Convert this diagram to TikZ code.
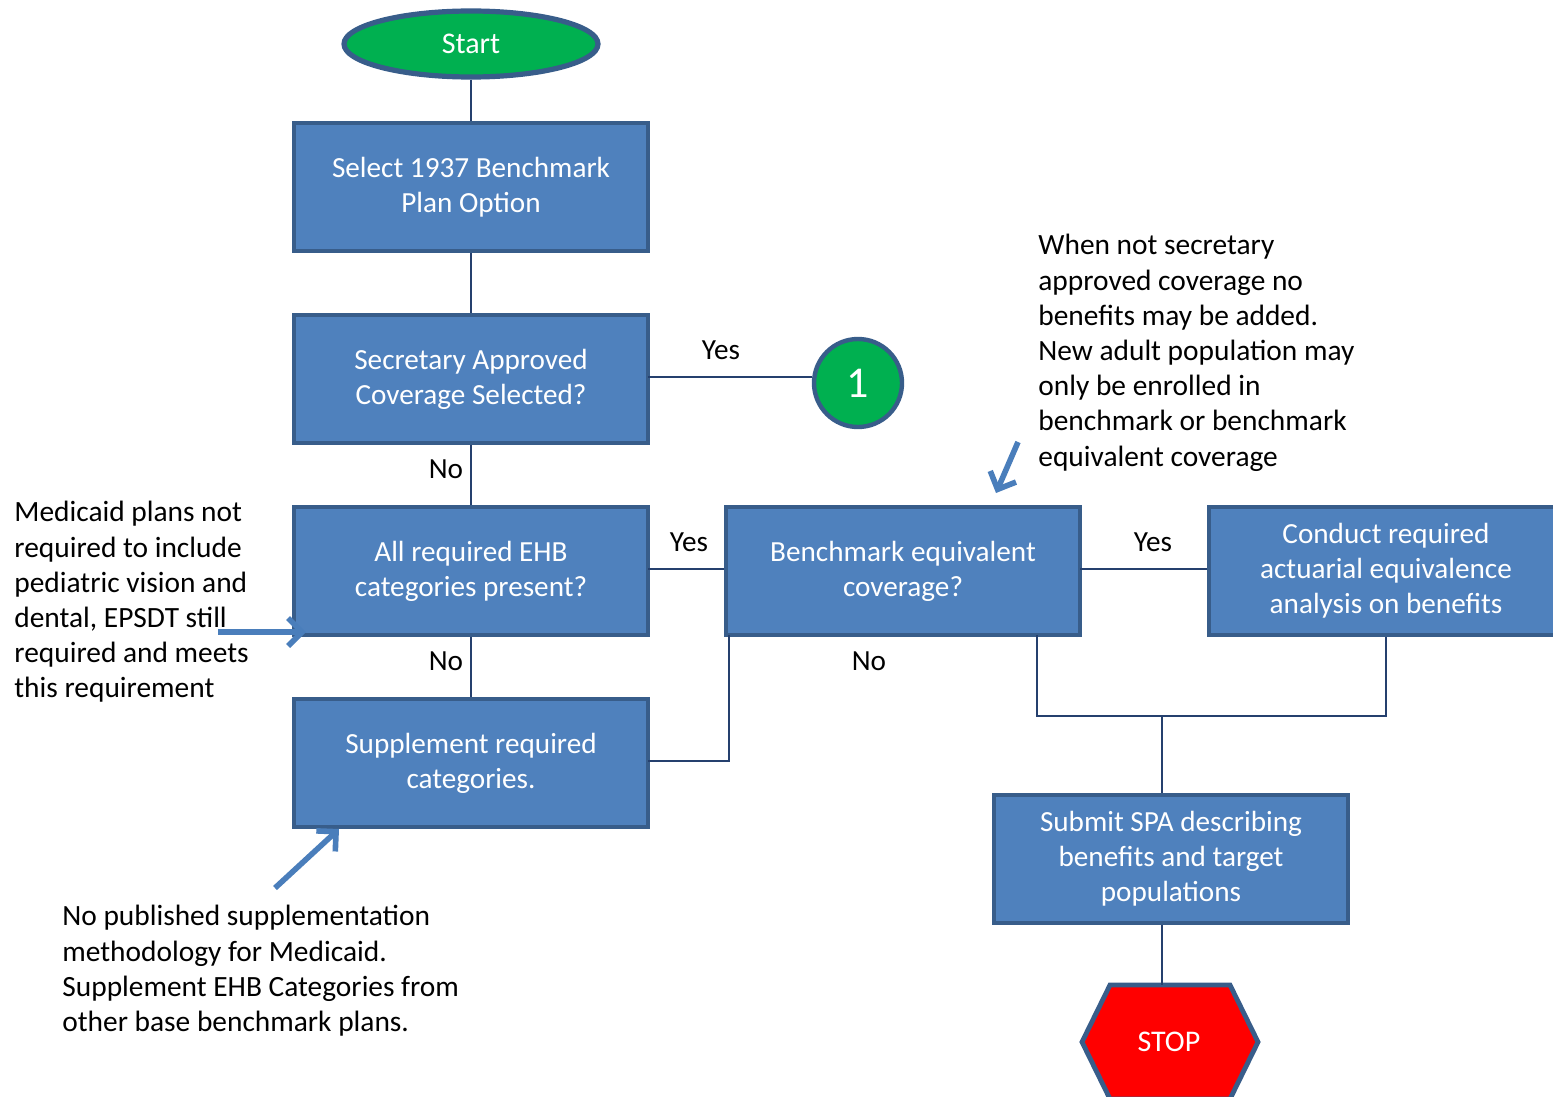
\documentclass[tikz,border=0pt]{standalone}
\usepackage{fontspec}
\setmainfont{Carlito}
\usetikzlibrary{shapes.geometric,arrows.meta}
\definecolor{boxblue}{RGB}{79,129,189}
\definecolor{edgeblue}{RGB}{56,93,138}
\definecolor{linenavy}{RGB}{37,64,110}
\definecolor{arrblue}{RGB}{74,126,187}
\definecolor{startgreen}{RGB}{0,176,80}
\tikzset{
  flowbox/.style={rectangle, draw=edgeblue, line width=1.6pt, fill=boxblue, text=white,
    minimum width=177pt, minimum height=64pt, text width=168pt, align=flush center,
    font=\fontsize{14.6}{17.6}\selectfont},
  conn/.style={draw=linenavy, line width=0.9pt},
  lbl/.style={font=\fontsize{14.6}{17.6}\selectfont, inner sep=0pt},
  note/.style={font=\fontsize{14.7}{17.6}\selectfont, align=left, anchor=north west, inner sep=0pt},
  callout/.style={draw=arrblue, line width=2.8pt, -{Straight Barb[length=7pt,width=14pt,line width=2.8pt]}},
}
\begin{document}
\begin{tikzpicture}[x=0.5pt, y=-0.5pt]
\useasboundingbox (0,0) rectangle (1553,1097);
\node[ellipse, draw=edgeblue, line width=2.6pt, fill=startgreen, text=white,
  minimum width=127pt, minimum height=33pt, font=\fontsize{15}{18}\selectfont] (start) at (471,44) {Start};
\node[flowbox] (sel) at (471,187) {Select 1937 Benchmark\\Plan Option};
\node[flowbox] (sec) at (471,379) {Secretary Approved\\Coverage Selected?};
\node[flowbox] (ehb) at (471,571) {All required EHB\\categories present?};
\node[flowbox] (supp) at (471,763) {Supplement required\\categories.};
\node[flowbox] (beq) at (903,571) {Benchmark equivalent\\coverage?};
\node[flowbox] (act) at (1386,571) {Conduct required\\actuarial equivalence\\analysis on benefits};
\node[flowbox] (spa) at (1171,859) {Submit SPA describing\\benefits and target\\populations};
\node[circle, draw=edgeblue, line width=2.2pt, fill=startgreen, text=white,
  minimum size=44pt, inner sep=0pt, font=\fontsize{22}{24}\selectfont] (one) at (858,383) {1};
% stop sign
\draw[edgeblue, line width=2.4pt, fill=red] (1110,985) -- (1230,985) -- (1258,1042)
  -- (1230,1099) -- (1110,1099) -- (1082,1042) -- cycle;
\node[text=white, font=\fontsize{15}{18}\selectfont] (stop) at (1169,1042) {STOP};
\coordinate (stoptop) at (1162,985);
% connectors
\draw[conn] (start) -- (sel);
\draw[conn] (sel) -- (sec);
\draw[conn] (sec) -- (ehb);
\draw[conn] (ehb) -- (supp);
\coordinate (c1) at (648,377);
\draw[conn] (c1) -- (c1 -| one.west);
\coordinate (c2) at (648,569);
\draw[conn] (c2) -- (c2 -| beq.west);
\coordinate (c3) at (1080,569);
\draw[conn] (c3) -- (c3 -| act.west);
\coordinate (c4) at (648,761);
\coordinate (j1) at (729,635);
\coordinate (j2) at (1037,635);
\coordinate (mrg) at (1162,716);
\draw[conn] (c4) -| (j1);
\draw[conn] (j2) |- (mrg) -| (act.south);
\draw[conn] (mrg) -- (mrg |- spa.north);
\draw[conn] (spa.south -| mrg) -- (stoptop);
% labels
\node[lbl] (yes1) at (721,350) {Yes};
\node[lbl] (no1) at (446,469) {No};
\node[lbl] (yes2) at (689,542) {Yes};
\node[lbl] (no2) at (446,661) {No};
\node[lbl] (no3) at (869,661) {No};
\node[lbl] (yes3) at (1153,542) {Yes};
% notes
\node[note] (noteR) at (1038,234) {When not secretary\\approved coverage no\\benefits may be added.\\New adult population may\\only be enrolled in\\benchmark or benchmark\\equivalent coverage};
\node[note] (noteL) at (14,501) {Medicaid plans not\\required to include\\pediatric vision and\\dental, EPSDT still\\required and meets\\this requirement};
\node[note] (noteB) at (62,905) {No published supplementation\\methodology for Medicaid.\\Supplement EHB Categories from\\other base benchmark plans.};
% callout arrows
\coordinate (aL0) at (218,632);
\coordinate (aL1) at (306,632);
\coordinate (aB0) at (275,888);
\coordinate (aB1) at (339,829);
\coordinate (aR0) at (1018,442);
\coordinate (aR1) at (996,493);
\draw[callout] (aL0) -- (aL1);
\draw[callout] (aB0) -- (aB1);
\draw[callout] (aR0) -- (aR1);
\end{tikzpicture}
\end{document}
